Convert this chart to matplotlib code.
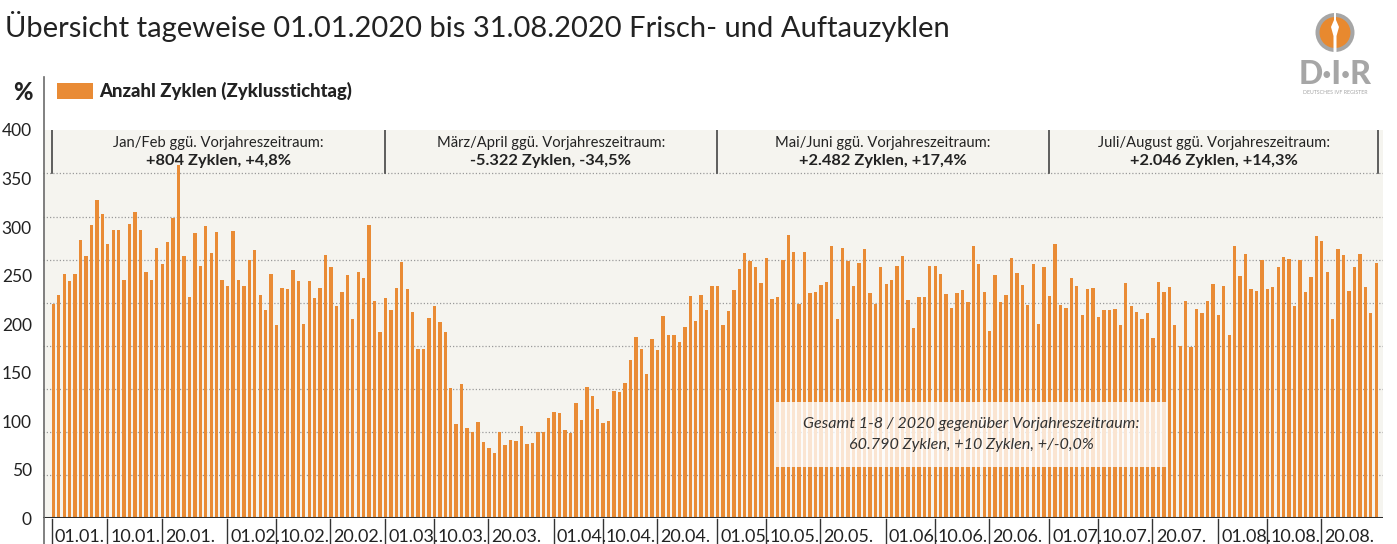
import numpy as np
import pandas as pd
import matplotlib
matplotlib.use("Agg")
import matplotlib.pyplot as plt
from matplotlib.patches import Rectangle, Circle, Polygon
from matplotlib.transforms import blended_transform_factory

plt.rcParams['font.family'] = ['Lato', 'DejaVu Sans']

# Anzahl Zyklen pro Tag, 01.01.2020 - 31.08.2020
jan = [221, 230, 252, 244, 252, 287, 270, 302, 328, 313, 283, 297, 297, 245, 303, 316,
       297, 254, 245, 278, 262, 285, 309, 364, 270, 228, 294, 260, 301, 273, 295]
feb = [245, 239, 296, 245, 239, 266, 276, 230, 215, 252, 199, 237, 236, 256, 244, 200,
       244, 227, 237, 271, 259, 219, 233, 251, 205, 254, 248, 302, 224]
mar = [192, 227, 215, 237, 264, 236, 213, 174, 174, 206, 219, 202, 192, 134, 97, 138,
       93, 89, 99, 79, 72, 67, 89, 76, 81, 80, 95, 77, 78, 89, 89]
apr = [103, 109, 108, 91, 88, 119, 101, 135, 126, 113, 98, 100, 131, 130, 139, 163,
       187, 174, 149, 185, 173, 208, 189, 189, 182, 197, 229, 203, 230, 215]
may = [239, 239, 199, 214, 235, 257, 273, 265, 259, 242, 268, 226, 228, 266, 292, 274,
       221, 274, 232, 233, 240, 243, 281, 205, 278, 265, 239, 263, 277, 232, 221]
jun = [259, 241, 245, 260, 270, 225, 196, 228, 228, 260, 260, 252, 231, 217, 232, 235,
       223, 280, 262, 233, 193, 251, 223, 230, 268, 253, 240, 220, 262, 200]
jul = [259, 229, 283, 220, 217, 248, 239, 209, 236, 237, 207, 215, 215, 216, 199, 242,
       219, 213, 205, 211, 186, 243, 233, 238, 199, 177, 224, 176, 216, 211, 224]
aug = [241, 209, 239, 189, 281, 250, 272, 236, 234, 266, 236, 238, 259, 269, 267, 219,
       266, 233, 249, 291, 286, 254, 205, 277, 271, 234, 259, 272, 238, 212, 263]

cycles = jan + feb + mar + apr + may + jun + jul + aug
days = pd.date_range('2020-01-01', '2020-08-31', freq='D')

tick_days = [1, 10, 20]
y_ticks = list(range(0, 401, 50))

period_starts = ['2020-01-01', '2020-03-01', '2020-05-01', '2020-07-01']
period_titles = ['Jan/Feb ggü. Vorjahreszeitraum:', 'März/April ggü. Vorjahreszeitraum:',
                 'Mai/Juni ggü. Vorjahreszeitraum:', 'Juli/August ggü. Vorjahreszeitraum:']
period_values = ['+804 Zyklen, +4,8%', '-5.322 Zyklen, -34,5%',
                 '+2.482 Zyklen, +17,4%', '+2.046 Zyklen, +14,3%']
total_lines = ['Gesamt 1-8 / 2020 gegenüber Vorjahreszeitraum:',
               '60.790 Zyklen, +10 Zyklen, +/-0,0%']

title = 'Übersicht tageweise 01.01.2020 bis 31.08.2020 Frisch- und Auftauzyklen'
legend_label = 'Anzahl Zyklen (Zyklusstichtag)'

ORANGE = '#e98b35'
BG = '#f5f4ef'
DARK = '#222222'

W, H = 1397, 544
fig = plt.figure(figsize=(W / 100, H / 100), dpi=100)
ax = fig.add_axes([43 / W, 25.7 / H, 1340 / W, 388.3 / H])
ax.set_facecolor(BG)

x = np.arange(len(cycles))
ax.bar(x, cycles, width=0.62, color=ORANGE, zorder=2)
ax.set_xlim(-1.9, len(cycles) + 0.25)
ax.set_ylim(0, 400)

# dotted grid (spacing as in the original, not on the labelled values)
grid_step = 44.4
for g in np.arange(1, 9) * grid_step:
    ax.axhline(g, color='#9a9a9a', lw=0.9, ls=(0, (1, 1.6)), zorder=1)
header_bottom = 8 * grid_step

for s in ax.spines.values():
    s.set_visible(False)
ax.set_xticks([])
ax.set_yticks(y_ticks)
ax.tick_params(axis='y', length=0, pad=8, labelsize=12.5, labelcolor=DARK)
ax.axhline(0, color='#2b2b2b', lw=2.2, zorder=4)

# separators below the axis
day_idx = {d: i for i, d in enumerate(days)}
tick_pos = [i for i, d in enumerate(days) if d.day in tick_days]
seps = [p + 0.9 if p > 0 else -0.3 for p in tick_pos]
tr = blended_transform_factory(ax.transData, fig.transFigure)
for p, s in zip(tick_pos, seps):
    ax.plot([s, s], [0, (H - 519) / H], transform=tr, color='#333333', lw=1, clip_on=False)
    ax.text(s + 0.6, (H - 529) / H, days[p].strftime('%d.%m.'), transform=tr,
            ha='left', va='top', fontsize=13, color=DARK)

# period header boxes
starts = [day_idx[pd.Timestamp(d)] for d in period_starts]
bounds = [p + 0.9 if p > 0 else -0.3 for p in starts] + [len(cycles) - 0.6]
for b in bounds:
    ax.plot([b, b], [header_bottom, 400], color='#444444', lw=1.2, zorder=3)
for i in range(len(period_titles)):
    cx = (bounds[i] + bounds[i + 1]) / 2
    ax.text(cx, 386.6, period_titles[i], ha='center', va='center', fontsize=10.6, color=DARK)
    ax.text(cx, 368, period_values[i], ha='center', va='center', fontsize=11.8,
            fontweight='bold', color=DARK)

# total box
ax.add_patch(Rectangle((132.8, 53.2), 71.8, 66.9, fc='white', ec='none', alpha=0.78, zorder=3))
ax.text(168.7, 97.2, total_lines[0], ha='center', va='center', fontsize=11.6,
        style='italic', color='#333333', zorder=4)
ax.text(168.7, 75.6, total_lines[1], ha='center', va='center', fontsize=11.6,
        style='italic', color='#333333', zorder=4)

# overlay in pixel coordinates for title, legend, logo
ov = fig.add_axes([0, 0, 1, 1])
ov.set_xlim(0, W)
ov.set_ylim(H, 0)
ov.axis('off')
ov.patch.set_visible(False)

ov.text(5, 37, title, ha='left', va='baseline', fontsize=21, color=DARK)
ov.plot([43.5, 43.5], [77, H], color='#6b6b6b', lw=1.2)
ov.text(23, 92, '%', ha='center', va='center', fontsize=17, fontweight='black', color=DARK)
ov.add_patch(Rectangle((57, 83), 36, 16, fc=ORANGE, ec='none'))
ov.text(99, 91, legend_label, ha='left', va='center', fontsize=13.3, fontweight='black',
        color=DARK)

# logo
ov.add_patch(Circle((1335, 32.5), 19.5, fc='#a6a6a6', ec='none'))
ov.add_patch(Circle((1335, 32.5), 15.5, fc='#e8892f', ec='none'))
ov.add_patch(Polygon([(1334, 13), (1336, 13), (1336, 20), (1339, 27), (1336.5, 36),
                      (1336.5, 52), (1333.5, 52), (1333.5, 36), (1331, 27), (1334, 20)],
                     closed=True, fc='white', ec='none'))
ov.text(1335, 83.5, 'D·I·R', ha='center', va='baseline', fontsize=23, fontweight='black',
        color='#a6a6a6')
ov.text(1335, 90.5, 'DEUTSCHES IVF REGISTER', ha='center', va='top', fontsize=3.8,
        color='#a6a6a6')

fig.savefig('out.png', dpi=100)
